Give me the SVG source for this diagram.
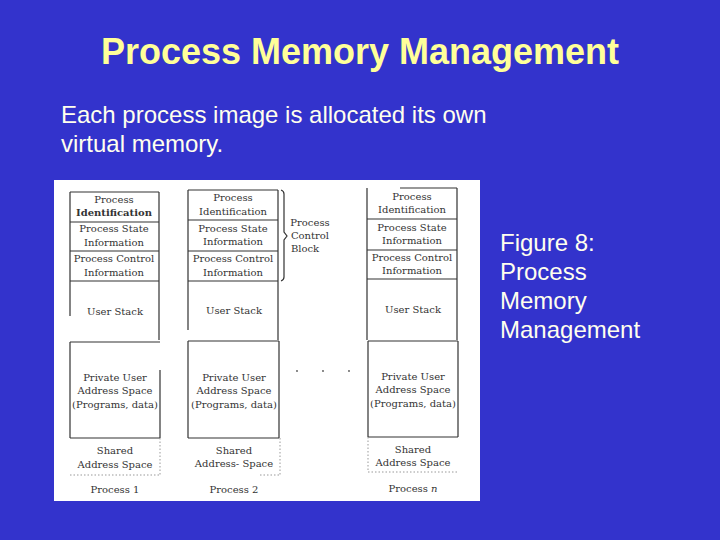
<svg xmlns="http://www.w3.org/2000/svg" width="720" height="540" viewBox="0 0 720 540">
<style>
.title{font-family:"Liberation Sans",Arial,sans-serif;font-weight:bold;font-size:36px;fill:#FFFF99}
.body{font-family:"Liberation Sans",Arial,sans-serif;font-size:24px;fill:#FFFFEE}
.lbl{font-family:"DejaVu Serif","Liberation Serif",serif;font-size:10px;fill:#333;text-anchor:middle}
.ln{stroke:#333;stroke-width:1.2;fill:none}
.dot{stroke:#999;stroke-width:1;stroke-dasharray:1.5 2;fill:none}
</style>
<rect x="0" y="0" width="720" height="540" fill="#3333CC"/>
<text class="title" x="360" y="64" text-anchor="middle">Process Memory Management</text>
<text class="body" x="61" y="123">Each process image is allocated its own</text>
<text class="body" x="61" y="152">virtual memory.</text>
<g id="caption">
<text class="body" x="500" y="251">Figure 8:</text>
<text class="body" x="500" y="280">Process</text>
<text class="body" x="500" y="309">Memory</text>
<text class="body" x="500" y="338">Management</text>
</g>
<rect x="54" y="180" width="426" height="321" fill="#FFFFFF"/>
<g id="process1">
<path class="ln" d="M70 192H159M70 222H159M70 251H159M70 281H159M70 192V316M159 192V340M70 342H160M70 342V438M160 370V438M70 438H160"/>
<path class="dot" d="M160 438V475M70 475H160"/>
<text class="lbl" x="114" y="203">Process</text>
<text class="lbl" x="114" y="216" font-weight="bold">Identification</text>
<text class="lbl" x="114" y="232">Process State</text>
<text class="lbl" x="114" y="246">Information</text>
<text class="lbl" x="114" y="262">Process Control</text>
<text class="lbl" x="114" y="276">Information</text>
<text class="lbl" x="115" y="315">User Stack</text>
<text class="lbl" x="115" y="381">Private User</text>
<text class="lbl" x="115" y="394">Address Space</text>
<text class="lbl" x="115" y="408">(Programs, data)</text>
<text class="lbl" x="115" y="454">Shared</text>
<text class="lbl" x="115" y="468">Address Space</text>
<text class="lbl" x="115" y="493">Process 1</text>
</g>
<g id="process2">
<path class="ln" d="M188 190H278M188 220H278M188 251H278M188 281H278M188 190V330M278 190V340M188 341H279M188 341V438M279 341V438M188 438H279"/>
<path class="dot" d="M280 438V475M260 475H280"/>
<text class="lbl" x="233" y="201">Process</text>
<text class="lbl" x="233" y="215">Identification</text>
<text class="lbl" x="233" y="232">Process State</text>
<text class="lbl" x="233" y="245">Information</text>
<text class="lbl" x="233" y="262">Process Control</text>
<text class="lbl" x="233" y="276">Information</text>
<text class="lbl" x="234" y="314">User Stack</text>
<text class="lbl" x="234" y="381">Private User</text>
<text class="lbl" x="234" y="394">Address Space</text>
<text class="lbl" x="234" y="408">(Programs, data)</text>
<text class="lbl" x="234" y="454">Shared</text>
<text class="lbl" x="234" y="467">Address- Space</text>
<text class="lbl" x="234" y="493">Process 2</text>
</g>
<g id="pcb-brace">
<path class="ln" d="M281 190Q284 191 284 194V232L287 236L284 240V277Q284 280 281 281" stroke-width="1"/>
<text class="lbl" x="310" y="226">Process</text>
<text class="lbl" x="310" y="239">Control</text>
<text class="lbl" x="305" y="252">Block</text>
</g>
<g id="ellipsis" fill="#555">
<circle cx="297" cy="371" r="0.9"/>
<circle cx="323" cy="371" r="0.9"/>
<circle cx="349" cy="371" r="0.9"/>
</g>
<g id="processn">
<path class="ln" d="M400 188H457M367 219H457M367 250H457M367 279H457M367 188V340M457 188V340M368 341H458M368 341V437M458 341V437M368 437H458"/>
<path class="dot" d="M368 437V472M368 472H458"/>
<text class="lbl" x="412" y="200">Process</text>
<text class="lbl" x="412" y="213">Identification</text>
<text class="lbl" x="412" y="231">Process State</text>
<text class="lbl" x="412" y="244">Information</text>
<text class="lbl" x="412" y="261">Process Control</text>
<text class="lbl" x="412" y="274">Information</text>
<text class="lbl" x="413" y="313">User Stack</text>
<text class="lbl" x="413" y="380">Private User</text>
<text class="lbl" x="413" y="393">Address Space</text>
<text class="lbl" x="413" y="407">(Programs, data)</text>
<text class="lbl" x="413" y="453">Shared</text>
<text class="lbl" x="413" y="466">Address Space</text>
<text class="lbl" x="413" y="492">Process <tspan font-style="italic">n</tspan></text>
</g>
</svg>
